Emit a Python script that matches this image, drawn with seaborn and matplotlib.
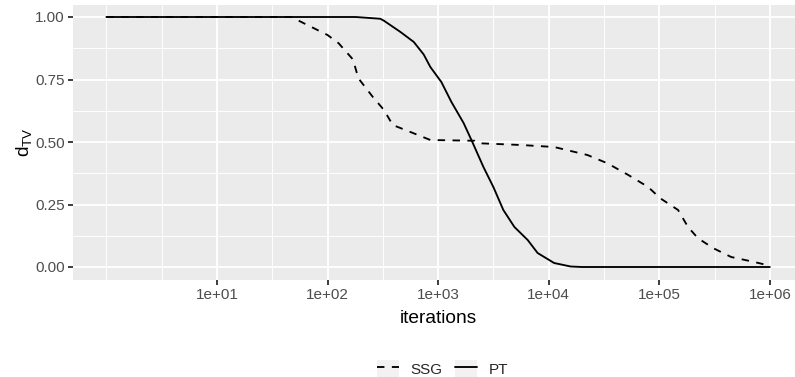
import matplotlib
matplotlib.use("Agg")
import matplotlib.pyplot as plt
import numpy as np
import pandas as pd
import seaborn as sns
from matplotlib.legend_handler import HandlerTuple
from matplotlib.patches import Rectangle
from matplotlib.ticker import FixedLocator, NullFormatter

# values
ssg_iter = [1, 47, 100, 126, 170, 190, 257, 324, 389, 562, 851, 2140, 2340, 5620,
            11200, 22400, 33900, 52500, 79400, 102000, 148000, 182000, 224000,
            309000, 447000, 724000, 1000000]
ssg_dtv = [1.0, 1.0, 0.928, 0.895, 0.83, 0.755, 0.68, 0.628, 0.568, 0.54, 0.508,
           0.505, 0.495, 0.488, 0.48, 0.448, 0.415, 0.368, 0.32, 0.275, 0.228,
           0.16, 0.115, 0.075, 0.04, 0.02, 0.005]
pt_iter = [1, 180, 300, 324, 457, 603, 741, 851, 1070, 1320, 1700, 2040, 2570,
           3160, 3890, 4900, 6460, 7940, 11200, 15800, 20000, 1000000]
pt_dtv = [1.0, 1.0, 0.993, 0.985, 0.94, 0.90, 0.85, 0.80, 0.74, 0.66, 0.576, 0.50,
          0.40, 0.32, 0.228, 0.16, 0.108, 0.056, 0.016, 0.002, 0.0, 0.0]
methods = ["SSG", "PT"]
x_ticks = [1e1, 1e2, 1e3, 1e4, 1e5, 1e6]
y_ticks = [0.0, 0.25, 0.5, 0.75, 1.0]

df = pd.concat([
    pd.DataFrame({"iterations": ssg_iter, "dtv": ssg_dtv, "method": "SSG"}),
    pd.DataFrame({"iterations": pt_iter, "dtv": pt_dtv, "method": "PT"}),
])

sns.set_theme(style="darkgrid")
plt.rcParams["font.family"] = ["Liberation Sans", "DejaVu Sans"]
plt.rcParams["mathtext.default"] = "regular"

# the reference looks like ggplot's theme_grey rendered at ~125 dpi
S = 1.25
lw = 1.07 * S
small = 8.8 * S
big = 11 * S

fig = plt.figure(figsize=(7.95, 3.77), dpi=100)
ax = fig.add_axes([73.2 / 795, 1 - 279.5 / 377, (803 - 73.2) / 795, 275 / 377])
ax.set_facecolor("#EBEBEB")

sns.lineplot(data=df, x="iterations", y="dtv", style="method", style_order=methods,
             dashes={"SSG": (4, 4), "PT": ""}, color="black", linewidth=lw,
             estimator=None, ax=ax)

ax.set_xscale("log")
ax.set_xlim(10 ** -0.3, 10 ** 6.3)
ax.set_ylim(-0.05, 1.05)

ax.xaxis.set_major_locator(FixedLocator(x_ticks))
ax.set_xticklabels([f"{v:.0e}" for v in x_ticks])
ax.xaxis.set_minor_locator(FixedLocator([1.0] + [10 ** p for p in np.arange(0, 6) + 0.5]))
ax.xaxis.set_minor_formatter(NullFormatter())
ax.yaxis.set_major_locator(FixedLocator(y_ticks))
ax.set_yticklabels([f"{v:.2f}" for v in y_ticks])
ax.yaxis.set_minor_locator(FixedLocator([0.125, 0.375, 0.625, 0.875]))

ax.grid(which="major", color="white", linewidth=lw)
ax.grid(which="minor", color="white", linewidth=lw / 2)
for s in ax.spines.values():
    s.set_visible(False)
ax.tick_params(which="major", length=2.75 * S, width=lw, color="#333333",
               labelsize=small, labelcolor="#4D4D4D", pad=2.2 * S, bottom=True, left=True)
ax.tick_params(which="minor", length=0)

ax.set_xlabel("iterations", fontsize=big, color="black", labelpad=6)
ax.set_ylabel(r"$d_{TV}$", fontsize=big, color="black", labelpad=1)

handles, labels = ax.get_legend_handles_labels()
ax.get_legend().remove()
keep = [(h, l) for h, l in zip(handles, labels) if l in methods]
for h, _ in keep:
    h.set_color("black")
    h.set_linewidth(lw)
keys = [(Rectangle((0, 0), 1, 1, facecolor="#F2F2F2", edgecolor="none"), h) for h, _ in keep]
fig.legend(keys, [l for _, l in keep], loc="center", bbox_to_anchor=(442.5 / 795, 1 - 369 / 377),
           ncol=2, frameon=False, fontsize=small, handlelength=1.44, handleheight=1.44,
           handletextpad=0.78, columnspacing=0.78, borderpad=0, borderaxespad=0,
           handler_map={tuple: HandlerTuple(ndivide=1, pad=0)})

fig.savefig("out.png", dpi=100)
